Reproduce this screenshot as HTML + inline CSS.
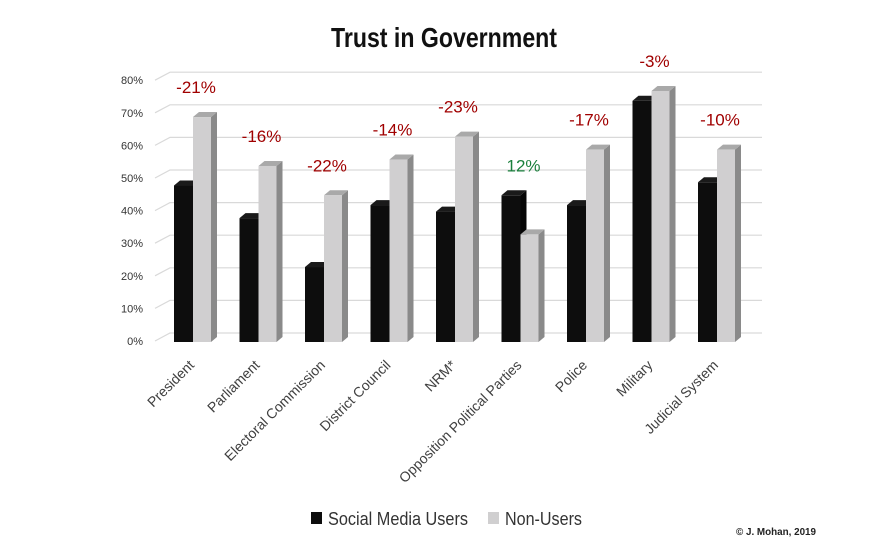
<!DOCTYPE html>
<html><head><meta charset="utf-8"><style>
html,body{margin:0;padding:0;background:#fff;}
svg{display:block;font-family:"Liberation Sans Narrow","Liberation Sans",sans-serif;}
</style></head><body>
<svg id="chart" width="875" height="545" viewBox="0 0 875 545">
<text x="444" y="47" text-anchor="middle" font-size="28" font-weight="bold" fill="#111" textLength="226" lengthAdjust="spacingAndGlyphs">Trust in Government</text>
<g id="grid"></g><g id="bars"></g><g id="labels"></g>
<g>
<rect x="311" y="512" width="11" height="12" fill="#0d0d0d"/>
<text x="328" y="525" font-size="18" fill="#333" textLength="140" lengthAdjust="spacingAndGlyphs">Social Media Users</text>
<rect x="488" y="512" width="11" height="12" fill="#d0cfd0"/>
<text x="505" y="525" font-size="18" fill="#333" textLength="77" lengthAdjust="spacingAndGlyphs">Non-Users</text>
</g>
<text x="736" y="535" font-size="10" font-weight="bold" fill="#222" textLength="80" lengthAdjust="spacingAndGlyphs">© J. Mohan, 2019</text>
</svg>
<script>
const categories=["President","Parliament","Electoral Commission","District Council","NRM*","Opposition Political Parties","Police","Military","Judicial System"];
const usersValues=[48,38,23,42,40,45,42,74,49];
const nonUsersValues=[69,54,45,56,63,33,59,77,59];
const diffLabels=["-21%","-16%","-22%","-14%","-23%","12%","-17%","-3%","-10%"];
const yTicks=[0,10,20,30,40,50,60,70,80];
const NS="http://www.w3.org/2000/svg";
function mk(t,a,p){const e=document.createElementNS(NS,t);for(const k in a)e.setAttribute(k,a[k]);p.appendChild(e);return e;}
const y0=342,unit=3.26,dx=6,dy=5;
function y(v){return y0-v*unit;}
function xg(i){return 174+i*65.5;}
const grid=document.getElementById('grid'),bars=document.getElementById('bars'),labels=document.getElementById('labels');
yTicks.forEach(t=>{
  const yy=y(t);
  const g=mk('g',{},grid);
  
  
  mk('polyline',{points:`155,${yy-1} 170,${yy-9} 762,${yy-9}`,fill:'none',stroke:'#d9d9d9','stroke-width':1.2},g);
  const tx=mk('text',{x:143,y:yy+3,'text-anchor':'end','font-size':11,fill:'#333'},g);
  
  
  tx.textContent=t+'%';
});
function bar(x,w,v,front,top,side,name){
  const g=mk('g',{},bars);
  
  
  const yt=y(v);
  mk('polygon',{points:`${x+w},${yt} ${x+w+dx},${yt-dy} ${x+w+dx},${y0-dy} ${x+w},${y0}`,fill:side},g);
  mk('polygon',{points:`${x},${yt} ${x+dx},${yt-dy} ${x+w+dx},${yt-dy} ${x+w},${yt}`,fill:top},g);
  mk('rect',{x:x,y:yt,width:w,height:y0-yt,fill:front},g);
}
categories.forEach((c,i)=>{
  const x=xg(i);
  bar(x,19,usersValues[i],'#0d0d0d','#1a1a1a','#050505','bar-users-'+i);
  bar(x+19,18,nonUsersValues[i],'#d0cfd0','#a9a9a9','#8a8a8a','bar-nonusers-'+i);
  const top=Math.max(usersValues[i],nonUsersValues[i]);
  const d=mk('text',{x:x+22,y:y(top)-24,'text-anchor':'middle','font-size':17,fill:diffLabels[i].startsWith('-')?'#a00000':'#1a7f3c'},labels);
  
  
  d.textContent=diffLabels[i];
  const gc=x+21;
  const l=mk('text',{x:gc,y:366,'text-anchor':'end','font-size':14,fill:'#404040',transform:`rotate(-45 ${gc} 366)`},labels);
  
  
  l.textContent=c;
});
</script>
</body></html>
